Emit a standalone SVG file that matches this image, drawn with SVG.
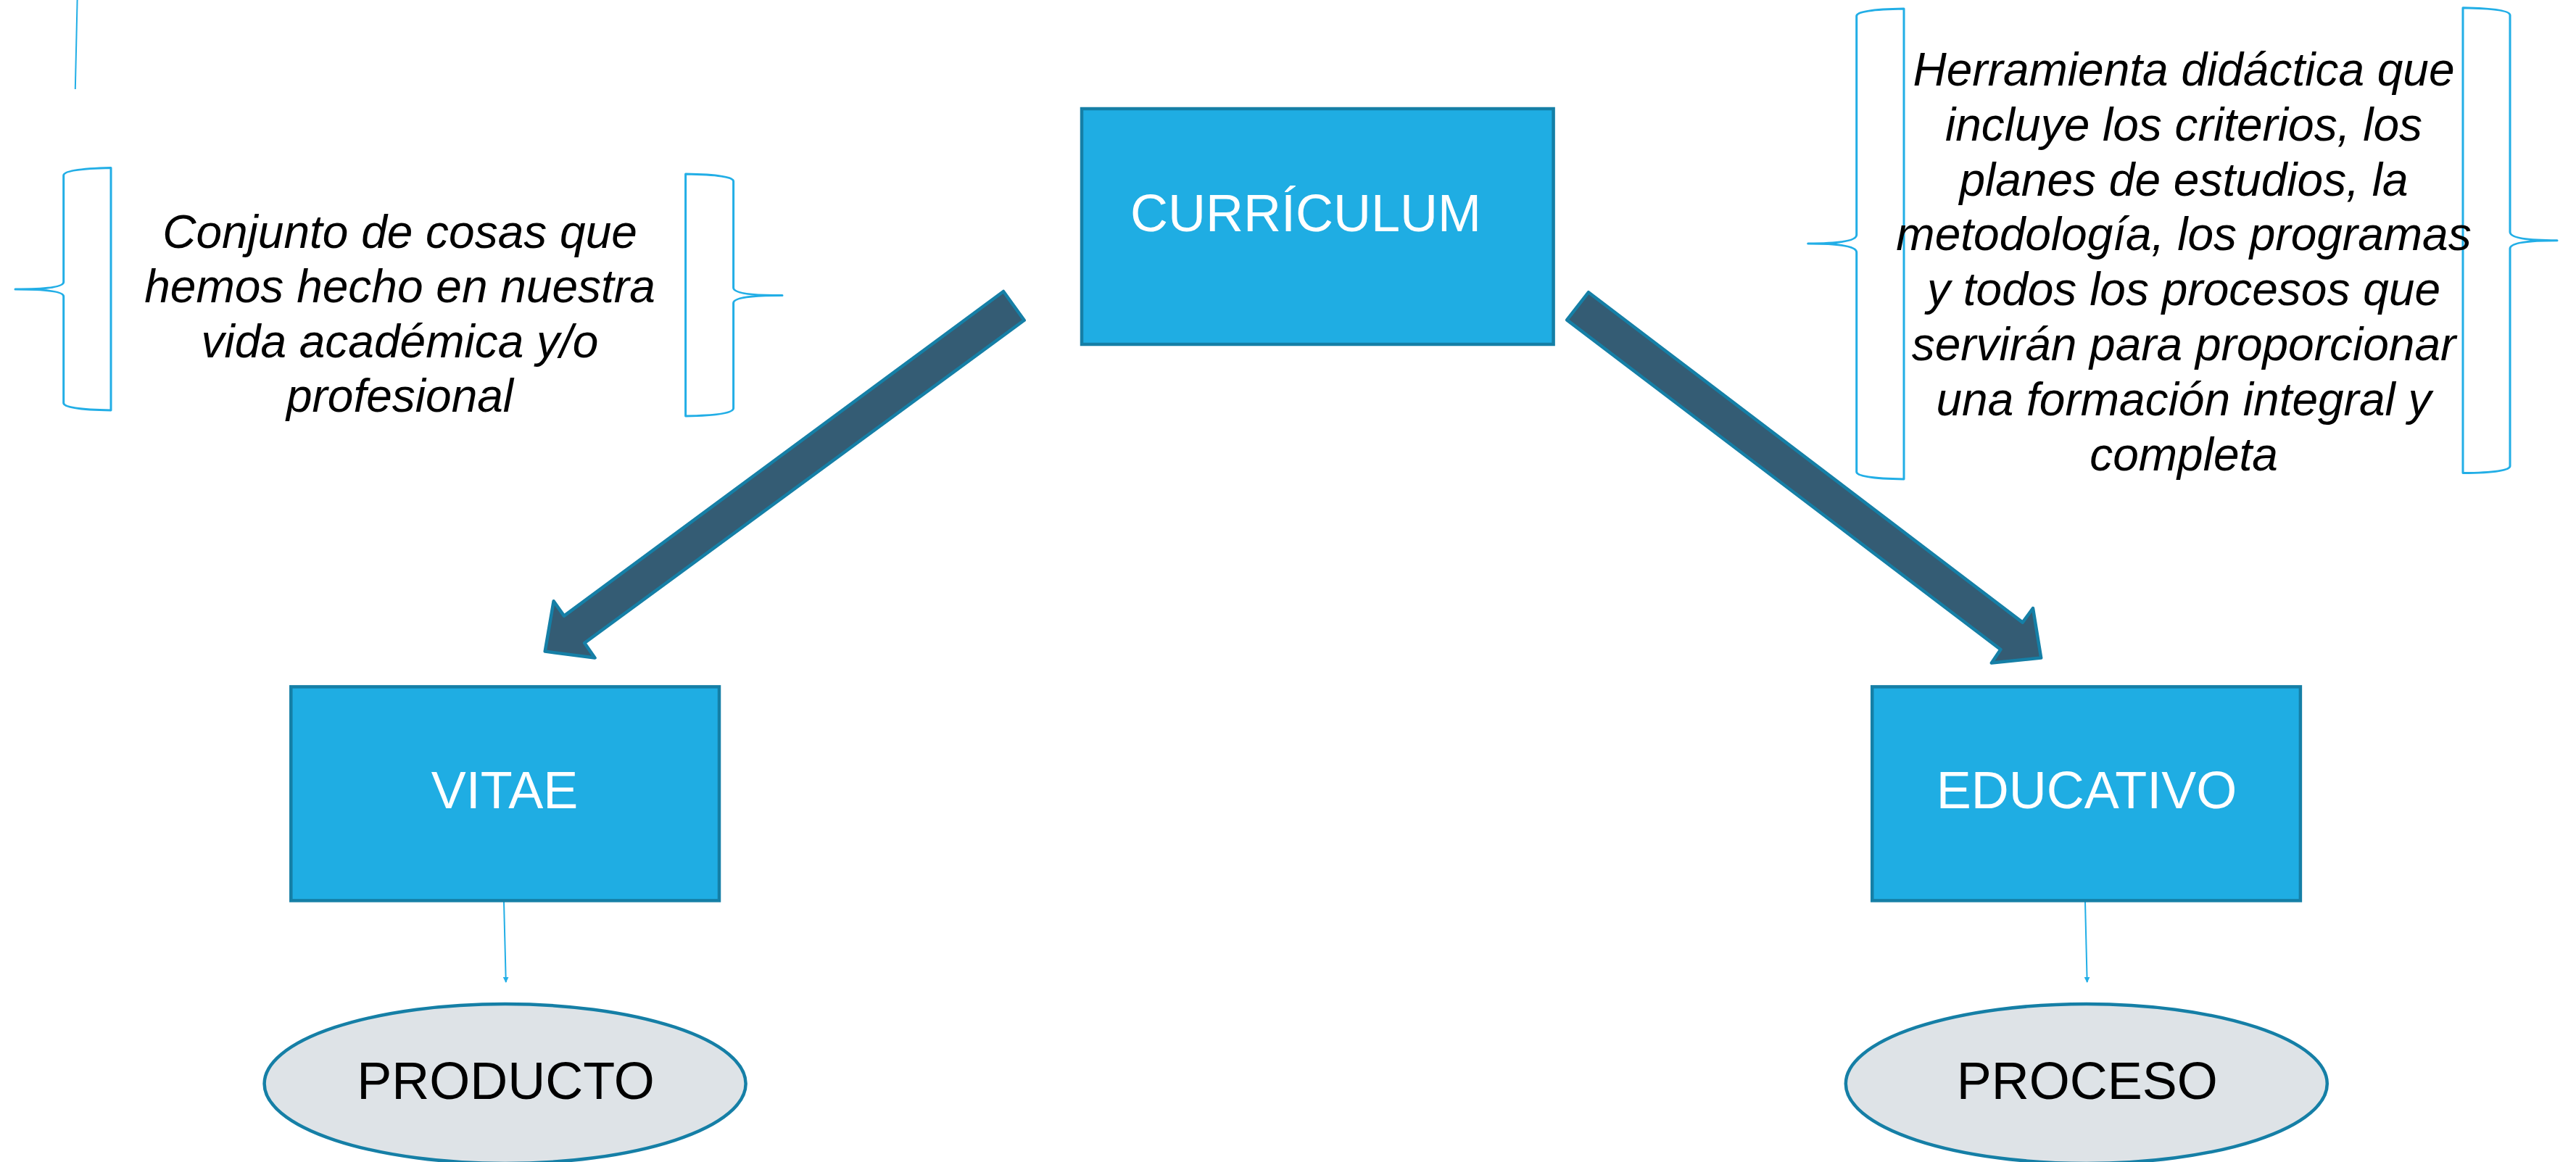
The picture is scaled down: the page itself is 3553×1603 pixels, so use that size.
<svg xmlns="http://www.w3.org/2000/svg" width="3553" height="1603" viewBox="0 0 3553 1603">
<style>
.box{fill:#1fade3;stroke:#157fa6;stroke-width:4.5}
.oval{fill:#dee3e7;stroke:#157fa6;stroke-width:4.5}
.brace{fill:none;stroke:#22aee6;stroke-width:3;stroke-linejoin:round}
.big{fill:#345c74;stroke:#157fa6;stroke-width:4.5;stroke-linejoin:round}
.thin{fill:none;stroke:#22aee6;stroke-width:2}
.wt{font-family:"Liberation Sans",Arial,sans-serif;font-size:72px;fill:#ffffff;text-anchor:middle}
.bt{font-family:"Liberation Sans",Arial,sans-serif;font-size:72px;fill:#000000;text-anchor:middle}
.it{font-family:"Liberation Sans",Arial,sans-serif;font-size:64px;font-style:italic;fill:#000000;text-anchor:middle}
</style>
<defs>
<marker id="ah" viewBox="0 0 10 10" refX="9" refY="5" markerWidth="4" markerHeight="4" orient="auto" markerUnits="strokeWidth">
<path d="M0,0 L10,5 L0,10 z" fill="#22aee6"/>
</marker>
</defs>
<rect width="3553" height="1603" fill="#ffffff"/>
<g id="connectors">
<line class="thin" x1="106.6" y1="0" x2="103.8" y2="123"/>
<polygon class="big" points="1384,402 1412.7,441.8 806.2,887 820.5,907.5 751.7,898.6 763.6,829.3 778,849.6"/>
<polygon class="big" points="2191,403.2 2161.2,441.4 2759.4,896 2746.9,914.6 2815.2,907.5 2804,839 2789.7,858.6"/>
<line class="thin" x1="695" y1="1244" x2="697.8" y2="1355" marker-end="url(#ah)"/>
<line class="thin" x1="2876" y1="1244" x2="2878.7" y2="1355" marker-end="url(#ah)"/>
</g>
<g id="note-vitae">
<path class="brace" d="M153,231.5 Q87.7,233 87.7,242 L87.7,389 Q87.7,399 21,399 Q87.7,399 87.7,409 L87.7,556 Q87.7,565 153,566 Z"/>
<path class="brace" d="M945.6,240 Q1011.6,241 1011.6,250 L1011.6,397 Q1011.6,407.6 1079,407.6 Q1011.6,407.6 1011.6,418 L1011.6,563 Q1011.6,573 945.6,574 Z"/>
<text class="it" x="551.5"><tspan x="551.5" y="341.7">Conjunto de cosas que</tspan><tspan x="551.5" y="417.2">hemos hecho en nuestra</tspan><tspan x="551.5" y="492.7">vida académica y/o</tspan><tspan x="551.5" y="568.2">profesional</tspan></text>
</g>
<g id="note-educativo">
<path class="brace" d="M2626,12 Q2560.7,13 2560.7,22 L2560.7,324 Q2560.7,336 2493.7,336 Q2560.7,336 2560.7,348 L2560.7,651 Q2560.7,660 2626,661 Z"/>
<path class="brace" d="M3397,10.8 Q3462,12 3462,21 L3462,320 Q3462,331.7 3527,331.7 Q3462,331.7 3462,343 L3462,643 Q3462,652 3397,652.6 Z"/>
<text class="it" x="3012"><tspan x="3012" y="118">Herramienta didáctica que</tspan><tspan x="3012" y="193.8">incluye los criterios, los</tspan><tspan x="3012" y="269.6">planes de estudios, la</tspan><tspan x="3012" y="345.4">metodología, los programas</tspan><tspan x="3012" y="421.2">y todos los procesos que</tspan><tspan x="3012" y="497">servirán para proporcionar</tspan><tspan x="3012" y="572.8">una formación integral y</tspan><tspan x="3012" y="648.6">completa</tspan></text>
</g>
<g id="curriculum">
<rect class="box" x="1492" y="150" width="650.6" height="325"/>
<text class="wt" x="1801" y="319">CURRÍCULUM</text>
</g>
<g id="vitae">
<rect class="box" x="401.3" y="947.4" width="590.7" height="295"/>
<text class="wt" x="696" y="1115">VITAE</text>
</g>
<g id="educativo">
<rect class="box" x="2582.2" y="947.4" width="590.7" height="295"/>
<text class="wt" x="2878" y="1115">EDUCATIVO</text>
</g>
<g id="producto">
<ellipse class="oval" cx="696.6" cy="1495" rx="332" ry="110"/>
<text class="bt" x="697.5" y="1515.5">PRODUCTO</text>
</g>
<g id="proceso">
<ellipse class="oval" cx="2877.8" cy="1495" rx="332" ry="110"/>
<text class="bt" x="2878.7" y="1515.5">PROCESO</text>
</g>
</svg>
